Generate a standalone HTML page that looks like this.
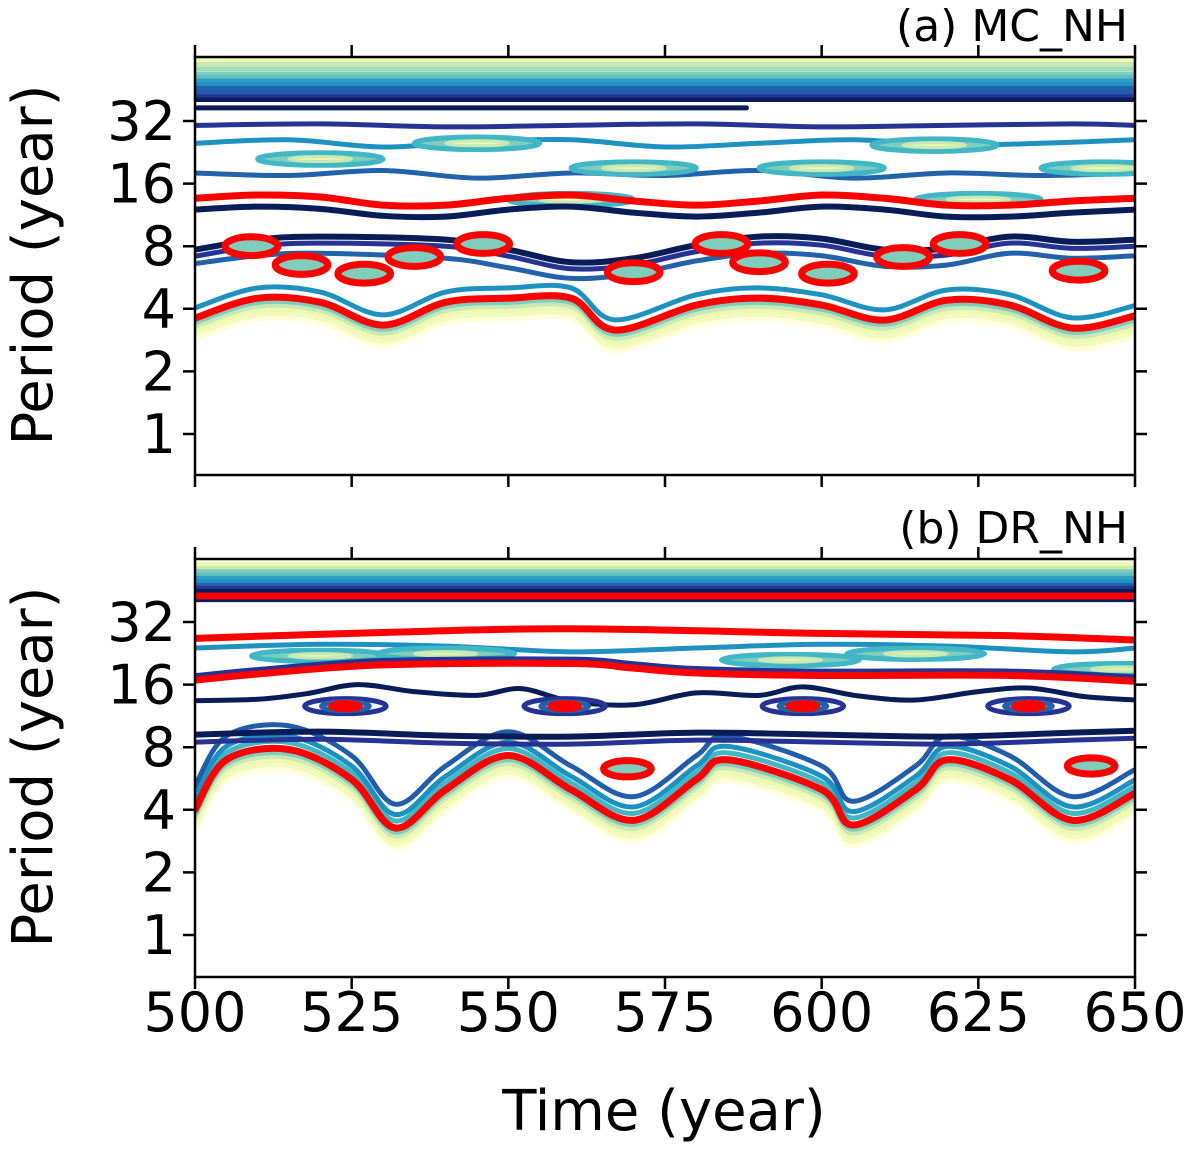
<!DOCTYPE html>
<html><head><meta charset="utf-8"><style>
html,body{margin:0;padding:0;background:#fff;}
svg{display:block;font-family:"DejaVu Sans","Liberation Sans",sans-serif;}
</style></head><body>
<svg id="chart" width="1200" height="1156" viewBox="0 0 1200 1156" xmlns="http://www.w3.org/2000/svg">
<defs>
<clipPath id="clipA"><rect x="195" y="57" width="940" height="418"/></clipPath>
<clipPath id="clipB"><rect x="195" y="559" width="940" height="418"/></clipPath>
</defs>
<g id="gA"></g>
<g id="gB"></g>
<text x="664" y="1130" font-size="56" text-anchor="middle">Time (year)</text>
</svg>
<script>
const xTicks=[500,525,550,575,600,625,650];
const yTicks=[1,2,4,8,16,32];
const titles=["(a) MC_NH","(b) DR_NH"];
const bandPeriodsA=[63,60,57,54,52,50,48,46,44,42,40.5];
const bandPeriodsB=[61,58,56,54,52,50,48,46.5,45];
const aNavyTopT=[500,588];const aNavyTopP=[37,37];
const aBlue1T=[500,520,540,560,580,600,620,640,650];const aBlue1P=[30.5,31,30,30.5,31,30,30.5,31,30.5];
const aBlue2T=[500,515,530,545,560,575,590,605,620,635,650];const aBlue2P=[25,26,24,25.5,26,24,25,26,24.5,25,26];
const aBlue3T=[500,515,530,545,560,575,590,605,620,635,650];const aBlue3P=[18,17.5,18.5,17,18,17.5,18.5,17,18,17.5,18];
const aRedUpT=[500,510,520,530,540,550,560,570,580,590,600,610,620,630,640,650];
const aRedUpP=[13.6,14.1,13.8,12.6,12.6,13.6,14.1,13.2,12.6,13.2,14.1,13.6,12.6,12.6,13.2,13.6];
const aNavyMidP=[12,12.4,12.1,11.2,11.1,12,12.4,11.6,11.1,11.6,12.4,12,11.1,11.1,11.6,12];
const aNavy8T=[500,510,520,540,550,560,570,580,590,600,610,620,630,640,650];
const aNavy8P=[7.7,8.6,8.9,8.6,7.7,6.7,7.0,8.1,8.9,8.7,7.7,7.8,8.9,8.4,8.6];
const aBlueLowP=[6.6,7.2,7.4,7.0,6.3,5.6,5.9,6.8,7.4,7.2,6.4,6.5,7.4,7.0,7.2];
const aRedLowT=[500,510,520,530,540,550,560,567,580,590,600,610,620,630,640,650];
const aRedLowP=[3.61,4.5,4.3,3.34,4.3,4.5,4.5,3.16,4.17,4.5,4.17,3.53,4.4,4.17,3.23,3.7];
const aLoopsT=[509,517,527,535,546,570,584,590,601,613,622,641];
const aLoopsP=[8.0,6.5,5.9,7.1,8.2,6.0,8.2,6.7,5.9,7.1,8.2,6.1];
const aTealT=[520,545,570,600,618,645,560,625];
const aTealP=[21,25,19,19,24.5,19,13.4,13.4];
const bRedTopP=42.7;const bNavyTopP=41;
const bRed2T=[500,530,560,600,630,650];const bRed2P=[26.7,28.5,29.7,28.2,27.5,26.2];
const bBlueT=[500,520,540,560,580,600,620,640,650];const bBlueP=[24,25,24.5,23,24,25,24.5,23,24];
const bRed3T=[500,510,530,560,570,580,600,630,650];const bRed3P=[16.8,18,19.9,20.2,19.2,18.2,17.7,17.7,16.6];
const bNavyWT=[500,510,518,526,535,545,552,560,570,580,590,597,606,615,625,633,642,650];
const bNavyWP=[13.4,13.6,14.5,16,14.8,14.2,15.3,13.3,12.8,14.6,14.2,15.6,14.1,13.5,14.8,15.4,14,13.5];
const bNavy9T=[500,520,540,560,580,600,620,640,650];const bNavy9P=[9.2,9.5,9.1,9.0,9.4,9.2,9.0,9.4,9.6];
const bOvalT=[524,559,597,633];const bOvalP=[12.6,12.6,12.6,12.6];
const bRedLowT=[500,505,515,525,532,540,550,560,570,580,585,600,605,615,620,630,640,650];
const bRedLowP=[4.0,6.96,7.8,5.6,3.27,5.0,7.3,5.0,3.56,5.6,6.96,5.0,3.38,5.0,6.96,5.6,3.56,4.8];
const bLoopT=[569,643];const bLoopP=[6.3,6.5];
const bTealT=[520,540,595,615,648];const bTealP=[22,22.5,21,22.5,19];

const NS="http://www.w3.org/2000/svg";
const X0=195,X1=1135;
function xs(t){return X0+(t-500)/150*(X1-X0);}
function mkY(y32){return p=>y32-(Math.log2(p)-5)*62.6;}
function el(tag,attrs,parent){const e=document.createElementNS(NS,tag);for(const k in attrs)e.setAttribute(k,attrs[k]);parent.appendChild(e);return e;}
function pathFrom(T,P,ys,scale){
  scale=scale||1;const pts=T.map((t,i)=>[xs(t),ys(P[i]*scale)]);
  if(pts.length<3)return "M"+pts.map(p=>p.join(",")).join("L");
  let d="M"+pts[0][0]+","+pts[0][1];
  for(let i=0;i<pts.length-1;i++){const p0=pts[i-1]||pts[i],p1=pts[i],p2=pts[i+1],p3=pts[i+2]||p2;
    d+=` C${p1[0]+(p2[0]-p0[0])/6},${p1[1]+(p2[1]-p0[1])/6} ${p2[0]-(p3[0]-p1[0])/6},${p2[1]-(p3[1]-p1[1])/6} ${p2[0]},${p2[1]}`;}
  return d;
}
const ylg=["#ffffd9","#edf8b1","#c7e9b4","#a3dbb7","#7fcdbb","#5ec1c0","#41b6c4","#2ea0c3","#1d91c0","#2262aa","#225ea8","#253494","#081d58"];
function line(g,T,P,ys,c,w,name,scale){
  const e=el("path",{d:pathFrom(T,P,ys,scale),fill:"none",stroke:c,"stroke-width":w,"stroke-linecap":"round","stroke-linejoin":"round"},g);
  
  
}
function oval(g,t,p,ys,rx,ro,c,w,name,fill){
  const cy=ys(p);const ry=ro*62.6;
  const e=el("ellipse",{cx:xs(t),cy:cy,rx:rx*(X1-X0)/150,ry:ry,fill:fill||"none",stroke:c,"stroke-width":w},g);
  
  
}
function axes(g,top,ys,title,label){
  const bottom=top+418;
  const fr=el("rect",{x:X0,y:top,width:X1-X0,height:418,fill:"none",stroke:"#000","stroke-width":2.5},g);
  
  
  xTicks.forEach(t=>{
    const tk=el("path",{d:`M${xs(t)},${top}v-12M${xs(t)},${bottom}v12`,stroke:"#000","stroke-width":2.5},g);
    
    
  });
  yTicks.forEach(p=>{
    const y=ys(p);
    const tk=el("path",{d:`M${X0},${y}h-12M${X1},${y}h12`,stroke:"#000","stroke-width":2.5},g);
    
    
    const tx=el("text",{x:176,y:y+19,"font-size":54,"text-anchor":"end"},g);tx.textContent=p;
    
    
  });
  const tt=el("text",{x:1128,y:top-16,"font-size":44,"text-anchor":"end"},g);tt.textContent=title;
  
  
  const yl=el("text",{x:0,y:0,"font-size":56,"text-anchor":"middle",transform:`translate(52,${top+208}) rotate(-90)`},g);yl.textContent="Period (year)";
  
  
  if(label){xTicks.forEach(t=>{const tx=el("text",{x:xs(t),y:bottom+54,"font-size":54,"text-anchor":"middle"},g);tx.textContent=t;
    
    });}
}
function band(g,periods,ys){
  periods.forEach((p,i)=>{const c=ylg[Math.min(12,Math.round(1+i*11/(periods.length-1)))];
    line(g,[500,650],[p,p],ys,c,4.5,"band-contour");});
}
function fuzzy(g,T,P,ys){
  [[0.8,"#ffffd9"],[0.84,"#f3fac0"],[0.88,"#edf8b1"],[0.92,"#c7e9b4"],[0.96,"#7fcdbb"]].forEach(([s,c])=>line(g,T,P,ys,c,6,"low-power-contour",s));
}
(function(){
  const g0=document.getElementById("gA");const ys=mkY(121);
  const g=el("g",{"clip-path":"url(#clipA)"},g0);
  band(g,bandPeriodsA,ys);
  line(g,aNavyTopT,aNavyTopP,ys,"#081d58",5,"contour-navy-top");
  line(g,aBlue1T,aBlue1P,ys,"#253494",5,"contour-blue-32");
  line(g,aBlue2T,aBlue2P,ys,"#1d91c0",5,"contour-teal-24");
  line(g,aBlue3T,aBlue3P,ys,"#2262aa",5,"contour-blue-18");
  aTealT.forEach((t,i)=>{oval(g,t,aTealP[i],ys,10,0.1,"#41b6c4",5,"teal-contour","#7fcdbb");oval(g,t,aTealP[i],ys,5,0.04,"#c7e9b4",3,"peak-contour","#edf8b1");});
  fuzzy(g,aRedLowT,aRedLowP,ys);
  line(g,aRedLowT,aRedLowP,ys,"#1d91c0",5,"contour-teal-low",1.12);
  line(g,aNavy8T,aBlueLowP,ys,"#2262aa",5,"contour-blue-low");
  line(g,aNavy8T,aNavy8P.map(v=>v*0.93),ys,"#253494",5,"contour-blue-8");
  line(g,aNavy8T,aNavy8P,ys,"#081d58",6,"contour-navy-8");
  line(g,aRedUpT,aNavyMidP,ys,"#081d58",6,"contour-navy-12");
  line(g,aRedUpT,aRedUpP,ys,"#ff0000",7,"significance-contour-upper");
  aLoopsT.forEach((t,i)=>{oval(g,t,aLoopsP[i],ys,4.2,0.15,"#ff0000",7,"significance-loop","#7fcdbb");});
  line(g,aRedLowT,aRedLowP,ys,"#ff0000",7,"significance-contour-lower");
  axes(g0,57,ys,titles[0],false);
})();
(function(){
  const g0=document.getElementById("gB");const ys=mkY(622);
  const g=el("g",{"clip-path":"url(#clipB)"},g0);
  band(g,bandPeriodsB,ys);
  line(g,[500,650],[bNavyTopP,bNavyTopP],ys,"#081d58",5,"contour-navy-top");
  line(g,[500,650],[bRedTopP,bRedTopP],ys,"#ff0000",7,"significance-contour-top");
  line(g,bBlueT,bBlueP,ys,"#1d91c0",5,"contour-teal-24");
  bTealT.forEach((t,i)=>{oval(g,t,bTealP[i],ys,11,0.09,"#41b6c4",5,"teal-contour","#7fcdbb");oval(g,t,bTealP[i],ys,5,0.035,"#c7e9b4",3,"peak-contour","#edf8b1");});
  line(g,bRed2T,bRed2P,ys,"#ff0000",7,"significance-contour-28");
  line(g,bRed3T,bRed3P.map(v=>v*1.05),ys,"#253494",5,"contour-blue-18");
  line(g,bRed3T,bRed3P,ys,"#ff0000",7,"significance-contour-18");
  line(g,bNavyWT,bNavyWP,ys,"#081d58",5,"contour-navy-14");
  bOvalT.forEach((t,i)=>{oval(g,t,bOvalP[i],ys,6.5,0.12,"#253494",5,"contour-ring");oval(g,t,bOvalP[i],ys,3.8,0.07,"#2262aa",5,"contour-ring");oval(g,t,bOvalP[i],ys,2.2,0.04,"#ff0000",7,"significance-oval","#ff0000");});
  fuzzy(g,bRedLowT,bRedLowP,ys);
  [[1.08,"#41b6c4"],[1.16,"#1d91c0"],[1.3,"#225ea8"]].forEach(([s,c])=>line(g,bRedLowT,bRedLowP,ys,c,5,"contour-low",s));
  line(g,bNavy9T,bNavy9P.map(v=>v*0.92),ys,"#253494",5,"contour-blue-8");
  line(g,bNavy9T,bNavy9P,ys,"#081d58",6,"contour-navy-9");
  bLoopT.forEach((t,i)=>oval(g,t,bLoopP[i],ys,3.8,0.13,"#ff0000",7,"significance-loop","#7fcdbb"));
  line(g,bRedLowT,bRedLowP,ys,"#ff0000",7,"significance-contour-lower");
  axes(g0,559,ys,titles[1],true);
})();
</script>
</body></html>
